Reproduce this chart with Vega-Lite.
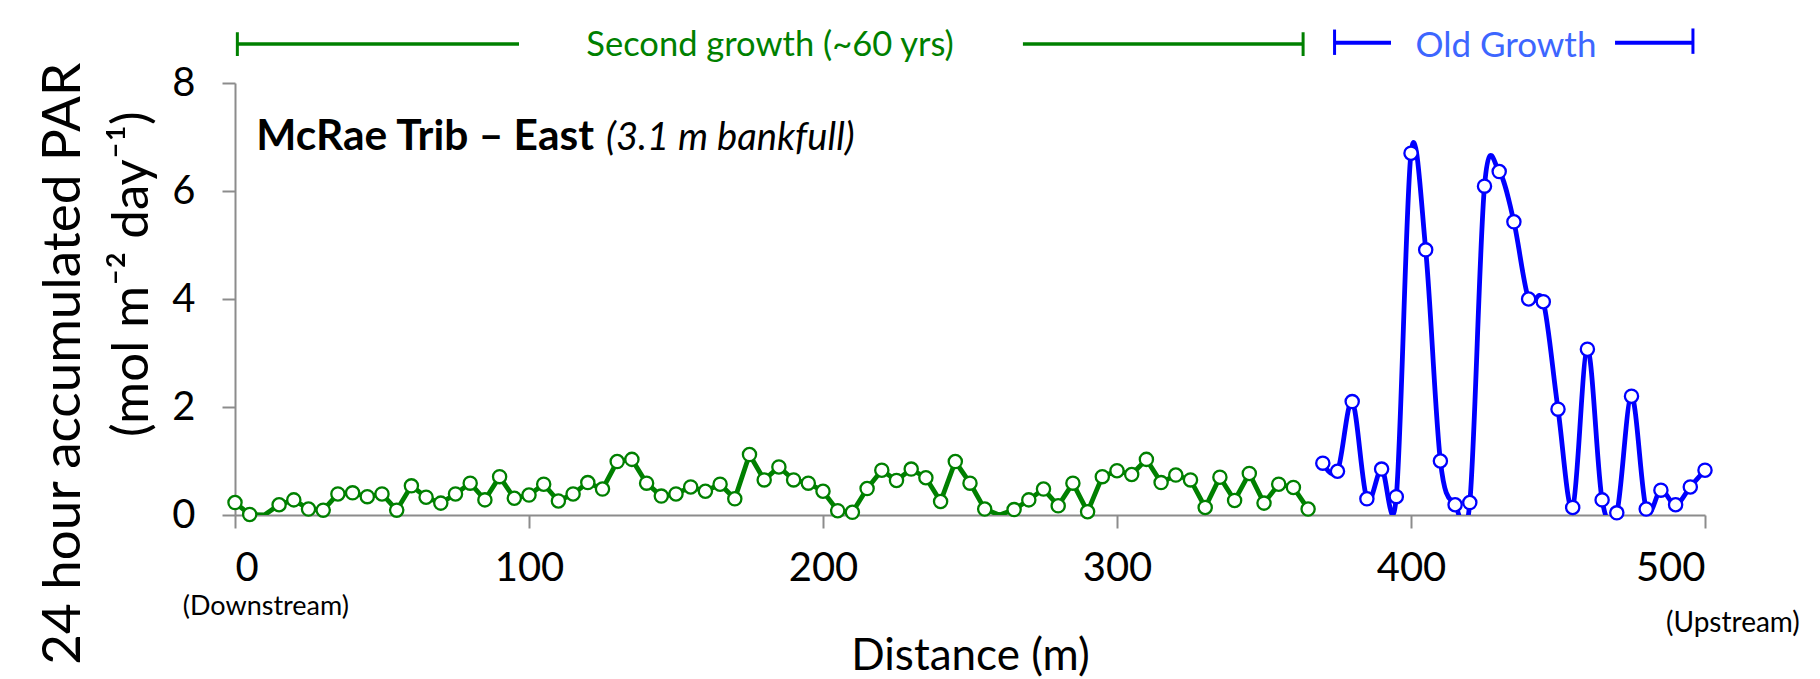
{
  "$schema": "https://vega.github.io/schema/vega-lite/v6.json",
  "width": 1470,
  "height": 432,
  "autosize": "none",
  "padding": {"left": 235, "top": 83, "right": 115, "bottom": 164},
  "background": "white",
  "config": {"view": {"stroke": null}, "font": "Lato"},
  "datasets": {
    "par": [
      {"distance": 0, "par": 0.23, "stand": "Second growth"},
      {"distance": 5, "par": 0.01, "stand": "Second growth"},
      {"distance": 10, "par": 0, "stand": "Second growth"},
      {"distance": 15, "par": 0.19, "stand": "Second growth"},
      {"distance": 20, "par": 0.28, "stand": "Second growth"},
      {"distance": 25, "par": 0.11, "stand": "Second growth"},
      {"distance": 30, "par": 0.09, "stand": "Second growth"},
      {"distance": 35, "par": 0.39, "stand": "Second growth"},
      {"distance": 40, "par": 0.41, "stand": "Second growth"},
      {"distance": 45, "par": 0.34, "stand": "Second growth"},
      {"distance": 50, "par": 0.39, "stand": "Second growth"},
      {"distance": 55, "par": 0.09, "stand": "Second growth"},
      {"distance": 60, "par": 0.54, "stand": "Second growth"},
      {"distance": 65, "par": 0.33, "stand": "Second growth"},
      {"distance": 70, "par": 0.22, "stand": "Second growth"},
      {"distance": 75, "par": 0.39, "stand": "Second growth"},
      {"distance": 80, "par": 0.59, "stand": "Second growth"},
      {"distance": 85, "par": 0.28, "stand": "Second growth"},
      {"distance": 90, "par": 0.71, "stand": "Second growth"},
      {"distance": 95, "par": 0.31, "stand": "Second growth"},
      {"distance": 100, "par": 0.37, "stand": "Second growth"},
      {"distance": 105, "par": 0.57, "stand": "Second growth"},
      {"distance": 110, "par": 0.26, "stand": "Second growth"},
      {"distance": 115, "par": 0.39, "stand": "Second growth"},
      {"distance": 120, "par": 0.60, "stand": "Second growth"},
      {"distance": 125, "par": 0.48, "stand": "Second growth"},
      {"distance": 130, "par": 0.99, "stand": "Second growth"},
      {"distance": 135, "par": 1.03, "stand": "Second growth"},
      {"distance": 140, "par": 0.59, "stand": "Second growth"},
      {"distance": 145, "par": 0.35, "stand": "Second growth"},
      {"distance": 150, "par": 0.39, "stand": "Second growth"},
      {"distance": 155, "par": 0.52, "stand": "Second growth"},
      {"distance": 160, "par": 0.44, "stand": "Second growth"},
      {"distance": 165, "par": 0.57, "stand": "Second growth"},
      {"distance": 170, "par": 0.30, "stand": "Second growth"},
      {"distance": 175, "par": 1.12, "stand": "Second growth"},
      {"distance": 180, "par": 0.65, "stand": "Second growth"},
      {"distance": 185, "par": 0.89, "stand": "Second growth"},
      {"distance": 190, "par": 0.65, "stand": "Second growth"},
      {"distance": 195, "par": 0.59, "stand": "Second growth"},
      {"distance": 200, "par": 0.44, "stand": "Second growth"},
      {"distance": 205, "par": 0.08, "stand": "Second growth"},
      {"distance": 210, "par": 0.05, "stand": "Second growth"},
      {"distance": 215, "par": 0.49, "stand": "Second growth"},
      {"distance": 220, "par": 0.83, "stand": "Second growth"},
      {"distance": 225, "par": 0.64, "stand": "Second growth"},
      {"distance": 230, "par": 0.85, "stand": "Second growth"},
      {"distance": 235, "par": 0.69, "stand": "Second growth"},
      {"distance": 240, "par": 0.25, "stand": "Second growth"},
      {"distance": 245, "par": 0.99, "stand": "Second growth"},
      {"distance": 250, "par": 0.59, "stand": "Second growth"},
      {"distance": 255, "par": 0.11, "stand": "Second growth"},
      {"distance": 260, "par": 0, "stand": "Second growth"},
      {"distance": 265, "par": 0.10, "stand": "Second growth"},
      {"distance": 270, "par": 0.28, "stand": "Second growth"},
      {"distance": 275, "par": 0.48, "stand": "Second growth"},
      {"distance": 280, "par": 0.17, "stand": "Second growth"},
      {"distance": 285, "par": 0.59, "stand": "Second growth"},
      {"distance": 290, "par": 0.06, "stand": "Second growth"},
      {"distance": 295, "par": 0.71, "stand": "Second growth"},
      {"distance": 300, "par": 0.82, "stand": "Second growth"},
      {"distance": 305, "par": 0.75, "stand": "Second growth"},
      {"distance": 310, "par": 1.03, "stand": "Second growth"},
      {"distance": 315, "par": 0.60, "stand": "Second growth"},
      {"distance": 320, "par": 0.74, "stand": "Second growth"},
      {"distance": 325, "par": 0.65, "stand": "Second growth"},
      {"distance": 330, "par": 0.14, "stand": "Second growth"},
      {"distance": 335, "par": 0.70, "stand": "Second growth"},
      {"distance": 340, "par": 0.27, "stand": "Second growth"},
      {"distance": 345, "par": 0.77, "stand": "Second growth"},
      {"distance": 350, "par": 0.22, "stand": "Second growth"},
      {"distance": 355, "par": 0.57, "stand": "Second growth"},
      {"distance": 360, "par": 0.51, "stand": "Second growth"},
      {"distance": 365, "par": 0.11, "stand": "Second growth"},
      {"distance": 370, "par": 0.96, "stand": "Old growth"},
      {"distance": 375, "par": 0.81, "stand": "Old growth"},
      {"distance": 380, "par": 2.10, "stand": "Old growth"},
      {"distance": 385, "par": 0.30, "stand": "Old growth"},
      {"distance": 390, "par": 0.85, "stand": "Old growth"},
      {"distance": 395, "par": 0.34, "stand": "Old growth"},
      {"distance": 400, "par": 6.70, "stand": "Old growth"},
      {"distance": 405, "par": 4.91, "stand": "Old growth"},
      {"distance": 410, "par": 1.00, "stand": "Old growth"},
      {"distance": 415, "par": 0.19, "stand": "Old growth"},
      {"distance": 420, "par": 0.23, "stand": "Old growth"},
      {"distance": 425, "par": 6.09, "stand": "Old growth"},
      {"distance": 430, "par": 6.36, "stand": "Old growth"},
      {"distance": 435, "par": 5.43, "stand": "Old growth"},
      {"distance": 440, "par": 4.00, "stand": "Old growth"},
      {"distance": 445, "par": 3.95, "stand": "Old growth"},
      {"distance": 450, "par": 1.96, "stand": "Old growth"},
      {"distance": 455, "par": 0.14, "stand": "Old growth"},
      {"distance": 460, "par": 3.07, "stand": "Old growth"},
      {"distance": 465, "par": 0.28, "stand": "Old growth"},
      {"distance": 470, "par": 0.04, "stand": "Old growth"},
      {"distance": 475, "par": 2.20, "stand": "Old growth"},
      {"distance": 480, "par": 0.11, "stand": "Old growth"},
      {"distance": 485, "par": 0.46, "stand": "Old growth"},
      {"distance": 490, "par": 0.19, "stand": "Old growth"},
      {"distance": 495, "par": 0.52, "stand": "Old growth"},
      {"distance": 500, "par": 0.83, "stand": "Old growth"}
    ]
  },
  "layer": [
    {
      "data": {"name": "par"},
      "transform": [{"filter": "datum.stand === 'Second growth'"}],
      "mark": {"type": "line", "strokeWidth": 4.8, "clip": true, "interpolate": "linear"},
      "encoding": {
        "x": {
          "field": "distance", "type": "quantitative",
          "scale": {"domain": [0, 500], "nice": false, "zero": false},
          "axis": {
            "values": [0, 100, 200, 300, 400, 500],
            "title": "Distance (m)",
            "grid": false,
            "domainColor": "#8c8c8c", "domainWidth": 2,
            "tickColor": "#8c8c8c", "tickWidth": 2, "tickSize": 13,
            "labelFont": "Lato", "labelFontSize": 40, "labelColor": "#000000", "labelPadding": 20,
            "titleFont": "Lato", "titleFontSize": 44, "titleFontWeight": "normal", "titleColor": "#000000", "titlePadding": 46
          }
        },
        "y": {
          "field": "par", "type": "quantitative",
          "scale": {"domain": [0, 8], "nice": false},
          "axis": {
            "values": [0, 2, 4, 6, 8],
            "title": null,
            "grid": false,
            "domainColor": "#8c8c8c", "domainWidth": 2,
            "tickColor": "#8c8c8c", "tickWidth": 2, "tickSize": 13,
            "labelFont": "Lato", "labelFontSize": 40, "labelColor": "#000000", "labelPadding": 27
          }
        },
        "color": {
          "field": "stand", "type": "nominal",
          "scale": {"domain": ["Second growth", "Old growth"], "range": ["#008000", "#0000ff"]},
          "legend": null
        }
      }
    },
    {
      "data": {"name": "par"},
      "transform": [{"filter": "datum.stand === 'Old growth'"}],
      "mark": {"type": "line", "strokeWidth": 4.8, "clip": true, "interpolate": "cardinal", "tension": 0},
      "encoding": {
        "x": {"field": "distance", "type": "quantitative"},
        "y": {"field": "par", "type": "quantitative"},
        "color": {"field": "stand", "type": "nominal", "legend": null}
      }
    },
    {
      "data": {"name": "par"},
      "transform": [{"filter": "datum.par > 0"}],
      "mark": {"type": "point", "shape": "circle", "filled": true, "fill": "white", "size": 175, "strokeWidth": 2.3, "opacity": 1},
      "encoding": {
        "x": {"field": "distance", "type": "quantitative"},
        "y": {"field": "par", "type": "quantitative"},
        "stroke": {
          "field": "stand", "type": "nominal",
          "scale": {"domain": ["Second growth", "Old growth"], "range": ["#008000", "#0000ff"]},
          "legend": null
        }
      }
    },
    {
      "data": {"values": [{}]},
      "mark": {"type": "rule", "color": "#008000", "strokeWidth": 3.5},
      "encoding": {"x": {"datum": 0.8, "type": "quantitative"}, "x2": {"datum": 96.6}, "y": {"datum": 8.72, "type": "quantitative"}}
    },
    {
      "data": {"values": [{}]},
      "mark": {"type": "rule", "color": "#008000", "strokeWidth": 3.5},
      "encoding": {"x": {"datum": 268, "type": "quantitative"}, "x2": {"datum": 363.3}, "y": {"datum": 8.72, "type": "quantitative"}}
    },
    {
      "data": {"values": [{}]},
      "mark": {"type": "rule", "color": "#008000", "strokeWidth": 3},
      "encoding": {"x": {"datum": 0.8, "type": "quantitative"}, "y": {"datum": 8.5, "type": "quantitative"}, "y2": {"datum": 8.94}}
    },
    {
      "data": {"values": [{}]},
      "mark": {"type": "rule", "color": "#008000", "strokeWidth": 3},
      "encoding": {"x": {"datum": 363.3, "type": "quantitative"}, "y": {"datum": 8.5, "type": "quantitative"}, "y2": {"datum": 8.94}}
    },
    {
      "data": {"values": [{}]},
      "mark": {"type": "rule", "color": "#0000ff", "strokeWidth": 4},
      "encoding": {"x": {"datum": 374, "type": "quantitative"}, "x2": {"datum": 393.2}, "y": {"datum": 8.745, "type": "quantitative"}}
    },
    {
      "data": {"values": [{}]},
      "mark": {"type": "rule", "color": "#0000ff", "strokeWidth": 4},
      "encoding": {"x": {"datum": 469.4, "type": "quantitative"}, "x2": {"datum": 495.9}, "y": {"datum": 8.745, "type": "quantitative"}}
    },
    {
      "data": {"values": [{}]},
      "mark": {"type": "rule", "color": "#0000ff", "strokeWidth": 3},
      "encoding": {"x": {"datum": 374, "type": "quantitative"}, "y": {"datum": 8.52, "type": "quantitative"}, "y2": {"datum": 8.99}}
    },
    {
      "data": {"values": [{}]},
      "mark": {"type": "rule", "color": "#0000ff", "strokeWidth": 3},
      "encoding": {"x": {"datum": 495.9, "type": "quantitative"}, "y": {"datum": 8.54, "type": "quantitative"}, "y2": {"datum": 9.01}}
    },
    {
      "data": {"values": [{}]},
      "mark": {"type": "text", "text": "Second growth (~60 yrs)", "color": "#008000", "font": "Lato", "fontSize": 34.5, "align": "center", "baseline": "middle"},
      "encoding": {"x": {"datum": 182, "type": "quantitative"}, "y": {"datum": 8.69, "type": "quantitative"}}
    },
    {
      "data": {"values": [{}]},
      "mark": {"type": "text", "text": "Old Growth", "color": "#3d66ff", "font": "Lato", "fontSize": 35, "align": "center", "baseline": "middle"},
      "encoding": {"x": {"datum": 432.3, "type": "quantitative"}, "y": {"datum": 8.69, "type": "quantitative"}}
    },
    {
      "data": {"values": [{}]},
      "mark": {"type": "text", "text": "McRae Trib – East", "color": "#000000", "font": "Lato", "fontWeight": "bold", "fontSize": 42.5, "align": "left", "baseline": "alphabetic"},
      "encoding": {"x": {"datum": 7.2, "type": "quantitative"}, "y": {"datum": 6.76, "type": "quantitative"}}
    },
    {
      "data": {"values": [{}]},
      "mark": {"type": "text", "text": "(3.1 m bankfull)", "color": "#000000", "font": "Lato", "fontStyle": "italic", "fontSize": 38.2, "align": "left", "baseline": "alphabetic"},
      "encoding": {"x": {"datum": 126.2, "type": "quantitative"}, "y": {"datum": 6.76, "type": "quantitative"}}
    },
    {
      "data": {"values": [{}]},
      "mark": {"type": "text", "text": "24 hour accumulated PAR", "color": "#000000", "font": "Lato", "fontSize": 53, "angle": 270, "align": "center", "baseline": "middle"},
      "encoding": {"x": {"datum": -58.2, "type": "quantitative"}, "y": {"datum": 2.8, "type": "quantitative"}}
    },
    {
      "data": {"values": [{}]},
      "mark": {"type": "text", "text": "(mol m⁻² day⁻¹)", "color": "#000000", "font": "Lato", "fontSize": 51, "angle": 270, "align": "center", "baseline": "middle"},
      "encoding": {"x": {"datum": -34.7, "type": "quantitative"}, "y": {"datum": 4.46, "type": "quantitative"}}
    },
    {
      "data": {"values": [{}]},
      "mark": {"type": "text", "text": "(Downstream)", "color": "#000000", "font": "Lato", "fontSize": 27, "align": "center", "baseline": "middle"},
      "encoding": {"x": {"datum": 10.5, "type": "quantitative"}, "y": {"datum": -1.71, "type": "quantitative"}}
    },
    {
      "data": {"values": [{}]},
      "mark": {"type": "text", "text": "(Upstream)", "color": "#000000", "font": "Lato", "fontSize": 28, "align": "center", "baseline": "middle"},
      "encoding": {"x": {"datum": 509.5, "type": "quantitative"}, "y": {"datum": -2.02, "type": "quantitative"}}
    }
  ]
}
